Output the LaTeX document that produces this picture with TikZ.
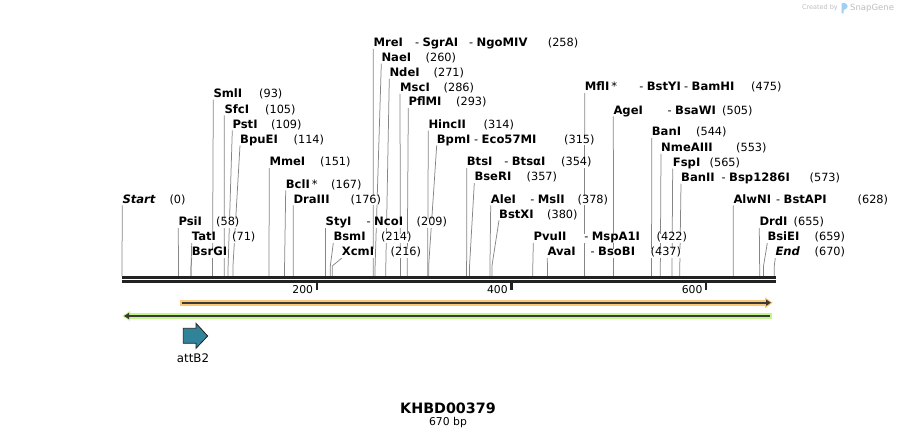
\documentclass[tikz,border=0pt]{standalone}
\usepackage{fontspec}
\setmainfont{DejaVu Sans}
\usepackage{xcolor}
\usepackage{tikz}
\usetikzlibrary{arrows.meta}
\pgfdeclarelayer{lines}
\pgfsetlayers{lines,main}
\definecolor{bbone}{HTML}{222222}
\definecolor{sitegray}{HTML}{858585}
\definecolor{featorange}{HTML}{FAC774}
\definecolor{featgreen}{HTML}{C4F48C}
\definecolor{featdark}{HTML}{3A3A3A}
\definecolor{attteal}{HTML}{31839A}
\definecolor{sgfaint}{HTML}{BDBDBD}
\definecolor{sglogo}{HTML}{9DD0F3}
\tikzset{
    lbl/.style = {inner sep=0pt, text height=0.72em, text depth=0.2em, fill=white},
    enz/.style = {lbl, anchor=base west, font=\fontsize{11.6}{14}\selectfont\bfseries},
    bpnum/.style = {lbl, anchor=base west, font=\fontsize{11.3}{14}\selectfont},
    cutline/.style = {draw=sitegray, line width=0.75pt},
    featline/.style = {draw=featdark, line width=1.7pt},
    rulernum/.style = {inner sep=0pt, anchor=base east, font=\fontsize{10.8}{12}\selectfont}
}
\newcommand{\cutsite}[7]{%
    \node [enz] (#1) at (#2,#3+4.2) {#4};
    \node [bpnum] (#1-bp) at (#5,#3+4.2) {#6};
    \coordinate (#1-site) at ({122+0.9735*#7},276);
    \begin{pgfonlayer}{lines}
        \draw [cutline] (#1.south west) -- ([yshift=10pt]#1-site) -- (#1-site);
    \end{pgfonlayer}
}
\newcommand{\alsocut}[4]{%
    \node [bpnum] (#1-dash) at (#2-7.5,#3+4.2) {-};
    \node [enz] (#1) at (#2,#3+4.2) {#4};
}
\begin{document}
\begin{tikzpicture}[x=1pt, y=-1pt]
    \useasboundingbox (0,0) rectangle (898,439);

    \cutsite{Start}{122.3}{199}{\textit{Start}}{169.3}{(0)}{0}
    \cutsite{SmlI}{213.3}{93.3}{SmlI}{259}{(93)}{93}
    \cutsite{SfcI}{224.3}{109}{SfcI}{265}{(105)}{105}
    \cutsite{PstI}{232.3}{124}{PstI}{271}{(109)}{109}
    \cutsite{BpuEI}{240}{139}{BpuEI}{293.5}{(114)}{114}
    \cutsite{MmeI}{269.3}{161.7}{MmeI}{320}{(151)}{151}
    \cutsite{BclI}{285.7}{184}{BclI\,{\mdseries *}}{331}{(167)}{167}
    \cutsite{DraIII}{293.3}{199}{DraIII}{350.5}{(176)}{176}
    \cutsite{PsiI}{178.3}{221.7}{PsiI}{216}{(58)}{58}
    \cutsite{TatI}{191.7}{236.7}{TatI}{232}{(71)}{71}
    \cutsite{BsrGI}{191.7}{251.7}{BsrGI}{232}{}{71}
    \cutsite{StyI}{325.5}{221.7}{StyI}{416.5}{(209)}{209}
    \alsocut{NcoI}{374}{221.7}{NcoI}
    \cutsite{BsmI}{333.3}{236.7}{BsmI}{381}{(214)}{214}
    \cutsite{XcmI}{341.7}{251.7}{XcmI}{390.5}{(216)}{216}
    \cutsite{MreI}{373.3}{42.5}{MreI}{547.7}{(258)}{258}
    \alsocut{SgrAI}{422.3}{42.5}{SgrAI}
    \alsocut{NgoMIV}{476.5}{42.5}{NgoMIV}
    \cutsite{NaeI}{381.3}{57.3}{NaeI}{425.5}{(260)}{260}
    \cutsite{NdeI}{389.3}{72.3}{NdeI}{433.5}{(271)}{271}
    \cutsite{MscI}{400}{87.3}{MscI}{443.5}{(286)}{286}
    \cutsite{PflMI}{408.3}{101.7}{PflMI}{456}{(293)}{293}
    \cutsite{HincII}{428.3}{124.3}{HincII}{483.5}{(314)}{314}
    \cutsite{BpmI}{436.7}{139}{BpmI}{564}{(315)}{315}
    \alsocut{Eco57MI}{481.5}{139}{Eco57MI}
    \cutsite{BtsI}{466.7}{161.7}{BtsI}{561}{(354)}{354}
    \alsocut{BtsaI}{511.7}{161.7}{BtsαI}
    \cutsite{BseRI}{474.3}{176.7}{BseRI}{526.5}{(357)}{357}
    \cutsite{AleI}{490.7}{199}{AleI}{577.5}{(378)}{378}
    \alsocut{MslI}{537.7}{199}{MslI}
    \cutsite{BstXI}{499}{214}{BstXI}{547}{(380)}{380}
    \cutsite{PvuII}{533.3}{236.7}{PvuII}{656.5}{(422)}{422}
    \alsocut{MspAI}{591.7}{236.7}{MspA1I}
    \cutsite{AvaI}{547.3}{251.7}{AvaI}{650.5}{(437)}{437}
    \alsocut{BsoBI}{598}{251.7}{BsoBI}
    \cutsite{MflI}{584.7}{86.7}{MflI\,{\mdseries *}}{751}{(475)}{475}
    \alsocut{BstYI}{646.7}{86.7}{BstYI}
    \alsocut{BamHI}{691.5}{86.7}{BamHI}
    \cutsite{AgeI}{613.3}{110}{AgeI}{722}{(505)}{505}
    \alsocut{BsaWI}{675}{110}{BsaWI}
    \cutsite{BanI}{651.7}{131.7}{BanI}{696}{(544)}{544}
    \cutsite{NmeAIII}{661}{147.3}{NmeAIII}{736}{(553)}{553}
    \cutsite{FspI}{672.7}{162.3}{FspI}{709.5}{(565)}{565}
    \cutsite{BanII}{681}{177.3}{BanII}{809.5}{(573)}{573}
    \alsocut{BspI}{729}{177.3}{Bsp1286I}
    \cutsite{AlwNI}{733.3}{199}{AlwNI}{857.5}{(628)}{628}
    \alsocut{BstAPI}{783.5}{199}{BstAPI}
    \cutsite{DrdI}{759.3}{221.7}{DrdI}{793.5}{(655)}{655}
    \cutsite{BsiEI}{767.3}{236.7}{BsiEI}{814.5}{(659)}{659}
    \cutsite{End}{775.3}{251.7}{\textit{End}}{814.5}{(670)}{670}

    \fill [bbone] (122,276) rectangle (775.5,278.7);
    \fill [bbone] (122,280) rectangle (775.5,282.8);
    \foreach \t in {200,400,600} {
        \fill [bbone] ({122+0.9735*\t-1},282) rectangle ({122+0.9735*\t+1.2},290);
        \node [rulernum] (tick\t) at ({122+0.9735*\t-3.5},293) {\t};
    }

    \fill [featorange] (180,300) rectangle (765,305.5);
    \fill [featorange] (765,297.3) -- (772.7,302.7) -- (765,308.3) -- cycle;
    \draw [featline, -{Triangle[length=5pt,width=6pt]}] (181.5,302.7) -- (771,302.7);

    \fill [featgreen] (129,313.3) rectangle (771.5,318.8);
    \fill [featgreen] (130,311) -- (122.3,316) -- (130,321) -- cycle;
    \draw [featline, -{Triangle[length=5pt,width=6pt]}] (769.5,316) -- (124,316);

    \draw [fill=attteal, draw=bbone, line width=0.8pt] (183.3,328.3) -- (196,328.3) -- (196,323.3)
        -- (207.7,336) -- (196,348.3) -- (196,343.3) -- (183.3,343.3) -- cycle;
    \node [font=\fontsize{11.8}{14}\selectfont, inner sep=0pt] (attB2) at (193,358) {attB2};

    \node [font=\fontsize{14.3}{16}\selectfont\bfseries, inner sep=0pt] (title) at (448,408) {KHBD00379};
    \node [font=\fontsize{10.8}{12}\selectfont, inner sep=0pt] (length) at (448,423) {670 bp};

    \node [font=\fontsize{6.5}{8}\selectfont, text=sgfaint, inner sep=0pt, anchor=east] (createdby) at (838,8) {Created by};
    \fill [sglogo, rounded corners=0.8pt] (841.5,3) -- (845.5,3) -- (848,6.5) -- (845.5,9.5) -- (843.5,9.5) -- (843.5,13.5) -- (841.5,13.5) -- cycle;
    \node [font=\fontsize{8.5}{10}\selectfont, text=sgfaint, inner sep=0pt, anchor=west] (snapgene) at (850,8) {SnapGene};
\end{tikzpicture}
\end{document}
